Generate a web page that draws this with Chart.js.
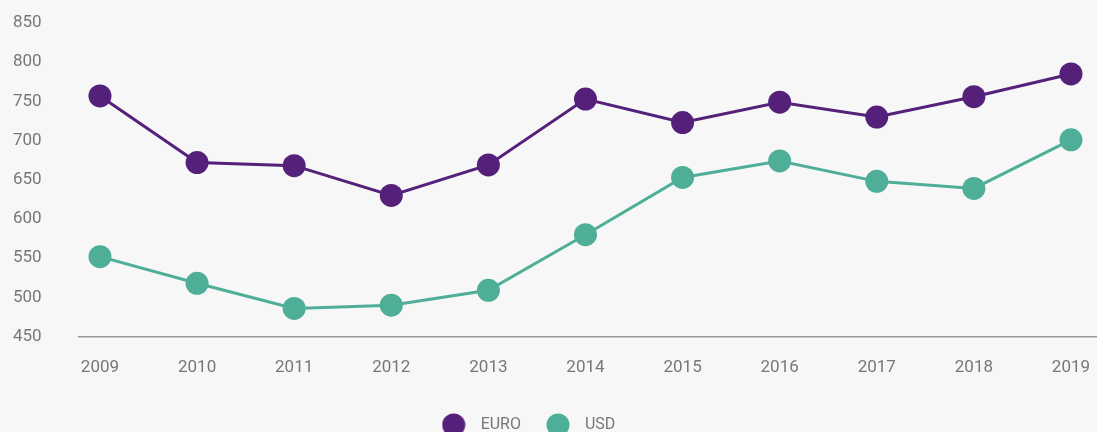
<!DOCTYPE html>
<html>
<head>
<meta charset="utf-8">
<script src="https://cdn.jsdelivr.net/npm/chart.js@4/dist/chart.umd.min.js"></script>
<style>
  html, body { margin: 0; padding: 0; background: #f7f7f7; overflow: hidden; }
  #wrap { width: 1097px; height: 443px; }
</style>
</head>
<body>
<div id="wrap"><canvas id="chLine"></canvas></div>
<script>
// chart data
var years = [2009, 2010, 2011, 2012, 2013, 2014, 2015, 2016, 2017, 2018, 2019];
var euro = [757, 672, 668, 630, 669, 753, 723, 749, 730, 756, 785];
var usd = [552, 518, 486, 490, 509, 580, 653, 674, 648, 639, 701];
var yTicks = [450, 500, 550, 600, 650, 700, 750, 800, 850];

// chart colors
var purple = '#55207a';
var teal = '#4fae98';
var grey = '#777777';
var font = "Roboto, sans-serif";

function points(vals) {
  return years.map(function (y, i) { return {x: y, y: vals[i]}; });
}

// round legend marker, drawn on a small canvas
function makeDot(color) {
  var c = document.createElement('canvas');
  c.width = 24;
  c.height = 24;
  var ctx = c.getContext('2d');
  ctx.fillStyle = color;
  ctx.beginPath();
  ctx.arc(12, 12, 11.5, 0, Math.PI * 2);
  ctx.fill();
  return c;
}
var dots = [makeDot(purple), makeDot(teal)];

// legend sits a little left of centre in the original
var legendShift = {
  id: 'legendShift',
  afterLayout: function (chart) {
    chart.legend.left -= 30;
    chart.legend.right -= 30;
  }
};

var lineData = {
  datasets: [
    {
      label: 'EURO',
      data: points(euro),
      borderColor: purple,
      backgroundColor: purple,
      borderWidth: 3,
      pointRadius: 11.5,
      pointHoverRadius: 11.5,
      pointBorderWidth: 0
    },
    {
      label: 'USD',
      data: points(usd),
      borderColor: teal,
      backgroundColor: teal,
      borderWidth: 3,
      pointRadius: 11.5,
      pointHoverRadius: 11.5,
      pointBorderWidth: 0
    }
  ]
};

var lineOptions = {
  responsive: true,
  maintainAspectRatio: false,
  animation: false,
  clip: false,
  layout: {autoPadding: false, padding: {left: 13, right: 0, top: 23, bottom: 0}},
  plugins: {
    tooltip: {enabled: false},
    legend: {
      position: 'bottom',
      labels: {
        usePointStyle: true,
        pointStyleWidth: 38,
        boxHeight: 16,
        color: grey,
        padding: 18,
        font: {family: font, size: 16},
        generateLabels: function (chart) {
          var items = Chart.defaults.plugins.legend.labels.generateLabels(chart);
          items.forEach(function (it, i) { it.pointStyle = dots[i]; });
          return items;
        }
      }
    }
  },
  scales: {
    x: {
      type: 'linear',
      min: 2008.784,
      max: 2019.268,
      afterBuildTicks: function (axis) {
        axis.ticks = years.map(function (y) { return {value: y}; });
      },
      afterFit: function (axis) {
        axis.paddingLeft = 0;
        axis.paddingRight = 0;
      },
      grid: {display: false, drawTicks: false},
      border: {display: true, color: '#999999', width: 1.5},
      ticks: {
        color: grey,
        padding: 21,
        maxRotation: 0,
        font: {family: font, size: 17},
        callback: function (v) { return String(v); }
      }
    },
    y: {
      min: 450,
      max: 850,
      afterBuildTicks: function (axis) {
        axis.ticks = yTicks.map(function (v) { return {value: v}; });
      },
      afterFit: function (axis) { axis.width = 66; },
      grid: {display: false, drawTicks: false},
      border: {display: false},
      ticks: {
        color: grey,
        crossAlign: 'far',
        font: {family: font, size: 17}
      }
    }
  }
};

var chLine = document.getElementById('chLine');
if (chLine) {
  new Chart(chLine, {
    type: 'line',
    data: lineData,
    options: lineOptions,
    plugins: [legendShift]
  });
}
</script>
</body>
</html>
